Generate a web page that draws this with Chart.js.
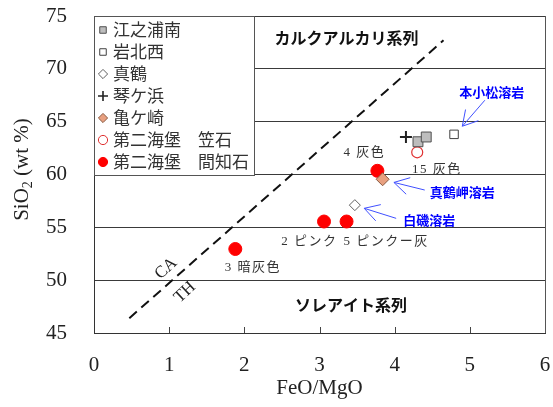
<!DOCTYPE html>
<html>
<head>
<meta charset="utf-8">
<script src="https://cdn.jsdelivr.net/npm/chart.js@4/dist/chart.umd.min.js"></script>
<style>
  html, body { margin: 0; padding: 0; background: #fff; }
  canvas { display: block; }
</style>
</head>
<body>
<canvas id="c" width="553" height="407"></canvas>
<script>
// FeO/MgO vs SiO2 (wt %) by locality: [FeO/MgO, SiO2]
const enouraMinami = [[4.31, 63.1], [4.42, 63.55]];
const iwaKitanishi = [[4.79, 63.8]];
const manazuru     = [[3.47, 57.1]];
const kotogahama   = [[4.15, 63.55]];
const kamegasaki   = [[3.84, 59.55]];
const kasaishi     = [[4.30, 62.1]];
const kenchiishi   = [[3.77, 60.35], [3.06, 55.55], [3.36, 55.55], [1.88, 52.95]];

// Calc-alkaline / tholeiitic boundary (end points)
const caThBoundary = [[0.47, 46.4], [4.65, 72.7]];

const seriesNames = ['江之浦南', '岩北西', '真鶴', '琴ケ浜', '亀ケ崎', '第二海堡　笠石', '第二海堡　間知石'];
const xTicks = [0, 1, 2, 3, 4, 5, 6];
const yTicks = [45, 50, 55, 60, 65, 70, 75];

// Sample notes (text starts at x, centred on y)
const noteTexts = ['4 灰色', '15 灰色', '2 ピンク', '5 ピンクー灰', '3 暗灰色'];
const noteX     = [3.32, 4.23, 2.49, 3.32, 1.74];
const noteY     = [62.1, 60.5, 53.66, 53.66, 51.22];

// Series field names
const fieldTexts = ['カルクアルカリ系列', 'ソレアイト系列'];
const fieldX     = [3.36, 3.42];
const fieldY     = [72.95, 47.66];

// Lava names with arrows (label centre, arrow tail -> tip)
const lavaTexts = ['本小松溶岩', '真鶴岬溶岩', '白磯溶岩'];
const lavaX     = [5.29, 4.90, 4.46];
const lavaY     = [67.84, 58.37, 55.69];
const arrowTail = [[5.20, 67.03], [4.40, 58.53], [4.02, 55.85]];
const arrowTip  = [[4.90, 64.57], [3.99, 59.25], [3.595, 56.8]];

// Boundary labels
const boundaryTexts = ['CA', 'TH'];
const boundaryX     = [0.96, 1.21];
const boundaryY     = [51.1, 48.85];

const toPts = arr => arr.map(([x, y]) => ({ x, y }));

const SERIF = '"Liberation Serif", "Times New Roman", serif';
const GOTHIC = '"Noto Sans CJK JP", sans-serif';

const pointSets = [
  { data: enouraMinami, pointStyle: 'rect',    radius: 7,   bg: '#bdbdbd', border: '#505050', bw: 1 },
  { data: iwaKitanishi, pointStyle: 'rect',    radius: 6,   bg: '#ffffff', border: '#404040', bw: 1 },
  { data: manazuru,     pointStyle: 'rectRot', radius: 5.5, bg: '#ffffff', border: '#606060', bw: 1 },
  { data: kotogahama,   pointStyle: 'cross',   radius: 6,   bg: '#222222', border: '#222222', bw: 2 },
  { data: kamegasaki,   pointStyle: 'rectRot', radius: 6.5, bg: '#e8a080', border: '#8a5a40', bw: 1 },
  { data: kasaishi,     pointStyle: 'circle',  radius: 5.5, bg: '#ffffff', border: '#e03030', bw: 1.2 },
  { data: kenchiishi,   pointStyle: 'circle',  radius: 6.5, bg: '#ff0000', border: '#ff0000', bw: 1 }
];

const datasets = pointSets.map((s, i) => ({
  label: seriesNames[i],
  data: toPts(s.data),
  pointStyle: s.pointStyle,
  pointRadius: s.radius,
  pointHoverRadius: s.radius,
  backgroundColor: s.bg,
  borderColor: s.border,
  borderWidth: s.bw,
  showLine: false
}));

datasets.push({
  label: 'CA-TH',
  data: toPts(caThBoundary),
  showLine: true,
  borderColor: '#111',
  borderWidth: 2,
  borderDash: [10, 6],
  pointRadius: 0,
  fill: false
});

// Vertical axis title with subscript
const yTitlePlugin = {
  id: 'yTitle',
  afterDraw(chart) {
    const { ctx, chartArea: a } = chart;
    ctx.save();
    ctx.translate(22, (a.top + a.bottom) / 2 - 5);
    ctx.rotate(-Math.PI / 2);
    ctx.fillStyle = '#222';
    ctx.textBaseline = 'middle';
    const main = '21px ' + SERIF, sub = '14px ' + SERIF;
    ctx.font = main; const w1 = ctx.measureText('SiO').width; const w3 = ctx.measureText(' (wt %)').width;
    ctx.font = sub;  const w2 = ctx.measureText('2').width;
    let x = -(w1 + w2 + w3) / 2;
    ctx.textAlign = 'left';
    ctx.font = main; ctx.fillText('SiO', x, 0); x += w1;
    ctx.font = sub;  ctx.fillText('2', x, 6); x += w2;
    ctx.font = main; ctx.fillText(' (wt %)', x, 0);
    ctx.restore();
  }
};

// Inward tick marks on the horizontal axis
const innerTicksPlugin = {
  id: 'innerTicks',
  afterDatasetsDraw(chart) {
    const { ctx, chartArea: a, scales: { x } } = chart;
    ctx.save();
    ctx.strokeStyle = '#444';
    ctx.lineWidth = 1;
    xTicks.slice(1, -1).forEach(v => {
      const px = Math.round(x.getPixelForValue(v)) + 0.5;
      ctx.beginPath();
      ctx.moveTo(px, a.bottom);
      ctx.lineTo(px, a.bottom - 6);
      ctx.stroke();
    });
    ctx.restore();
  }
};

// Notes, field names, lava labels with arrows, boundary labels
const annotationPlugin = {
  id: 'annotations',
  afterDatasetsDraw(chart) {
    const { ctx, scales: { x, y } } = chart;
    ctx.save();
    ctx.textBaseline = 'middle';

    ctx.fillStyle = '#333';
    ctx.textAlign = 'left';
    ctx.font = '13px ' + SERIF + ', ' + GOTHIC;
    ctx.letterSpacing = '1.5px';
    noteTexts.forEach((t, i) => ctx.fillText(t, x.getPixelForValue(noteX[i]), y.getPixelForValue(noteY[i])));
    ctx.letterSpacing = '0px';

    ctx.fillStyle = '#111';
    ctx.textAlign = 'center';
    ctx.font = 'bold 16px ' + GOTHIC;
    fieldTexts.forEach((t, i) => ctx.fillText(t, x.getPixelForValue(fieldX[i]), y.getPixelForValue(fieldY[i])));

    ctx.fillStyle = '#0000ff';
    ctx.font = 'bold 13px ' + GOTHIC;
    lavaTexts.forEach((t, i) => ctx.fillText(t, x.getPixelForValue(lavaX[i]), y.getPixelForValue(lavaY[i])));

    ctx.strokeStyle = '#4050ff';
    ctx.lineWidth = 1;
    arrowTip.forEach((tip, i) => {
      const tx = x.getPixelForValue(tip[0]), ty = y.getPixelForValue(tip[1]);
      const sx = x.getPixelForValue(arrowTail[i][0]), sy = y.getPixelForValue(arrowTail[i][1]);
      const ang = Math.atan2(sy - ty, sx - tx);
      const len = 17, spread = Math.PI / 6;
      ctx.beginPath();
      ctx.moveTo(sx, sy); ctx.lineTo(tx, ty);
      ctx.moveTo(tx + len * Math.cos(ang - spread), ty + len * Math.sin(ang - spread));
      ctx.lineTo(tx, ty);
      ctx.lineTo(tx + len * Math.cos(ang + spread), ty + len * Math.sin(ang + spread));
      ctx.stroke();
    });

    ctx.fillStyle = '#222';
    ctx.font = '17px ' + SERIF;
    boundaryTexts.forEach((t, i) => {
      ctx.save();
      ctx.translate(x.getPixelForValue(boundaryX[i]), y.getPixelForValue(boundaryY[i]));
      ctx.rotate(-43 * Math.PI / 180);
      ctx.fillText(t, 0, 0);
      ctx.restore();
    });
    ctx.restore();
  }
};

// Framed legend in the upper-left corner of the plot
const legendBoxPlugin = {
  id: 'legendBox',
  afterDatasetsDraw(chart) {
    const { ctx, chartArea: a } = chart;
    const fontSize = 17, rowH = 22, pad = 5;
    const items = chart.data.datasets.filter(d => seriesNames.includes(d.label));
    ctx.save();
    ctx.font = fontSize + 'px ' + GOTHIC;
    const textW = Math.max(...items.map(d => ctx.measureText(d.label).width));
    const left = a.left, top = a.top;
    const textX = left + 19;
    const w = textX - left + textW + 5;
    const h = pad * 2 + rowH * items.length - (rowH - fontSize);
    ctx.fillStyle = '#fff';
    ctx.fillRect(left, top, w, h);
    ctx.strokeStyle = '#555';
    ctx.lineWidth = 1;
    ctx.strokeRect(Math.round(left) + 0.5, Math.round(top) + 0.5, Math.round(w), Math.round(h));
    items.forEach((d, i) => {
      const cy = top + pad + fontSize / 2 + i * rowH + 0.5;
      ctx.fillStyle = d.backgroundColor;
      ctx.strokeStyle = d.borderColor;
      ctx.lineWidth = d.pointStyle === 'cross' ? 1.6 : 1;
      Chart.helpers.drawPoint(ctx, {
        pointStyle: d.pointStyle,
        radius: d.pointStyle === 'cross' ? 5 : 4.6,
        borderWidth: 1,
        rotation: 0
      }, left + 9, cy);
      ctx.fillStyle = '#333';
      ctx.textAlign = 'left';
      ctx.textBaseline = 'middle';
      ctx.fillText(d.label, textX, cy);
    });
    ctx.restore();
  }
};

const noPadding = s => { s.paddingTop = 0; s.paddingBottom = 0; s.paddingLeft = 0; s.paddingRight = 0; };

new Chart(document.getElementById('c'), {
  type: 'scatter',
  data: { datasets },
  options: {
    responsive: false,
    devicePixelRatio: 1,
    animation: false,
    layout: { padding: { left: 0, right: 7, top: 16, bottom: 0 } },
    plugins: { legend: { display: false }, tooltip: { enabled: false } },
    scales: {
      x: {
        type: 'linear',
        min: 0, max: 6,
        afterBuildTicks: s => { s.ticks = xTicks.map(v => ({ value: v })); },
        afterFit: s => { s.height = 74; noPadding(s); },
        grid: {
          drawTicks: false,
          color: c => (c.tick && c.tick.value === 6 ? '#555' : 'rgba(0,0,0,0)'),
          lineWidth: 1
        },
        border: { display: true, color: '#333', width: 1 },
        ticks: { padding: 20, color: '#222', font: { family: SERIF, size: 21 }, maxRotation: 0 },
        title: { display: true, text: 'FeO/MgO', color: '#222', font: { family: SERIF, size: 21 }, padding: { top: 0, bottom: 6 } }
      },
      y: {
        type: 'linear',
        min: 45, max: 75,
        afterBuildTicks: s => { s.ticks = yTicks.map(v => ({ value: v })); },
        afterFit: s => { s.width = 94; noPadding(s); },
        grid: { drawTicks: false, color: '#3a3a3a', lineWidth: 1 },
        border: { display: true, color: '#333', width: 1 },
        ticks: { padding: 27, color: '#222', font: { family: SERIF, size: 21 } }
      }
    }
  },
  plugins: [legendBoxPlugin, innerTicksPlugin, annotationPlugin, yTitlePlugin]
});
</script>
</body>
</html>
